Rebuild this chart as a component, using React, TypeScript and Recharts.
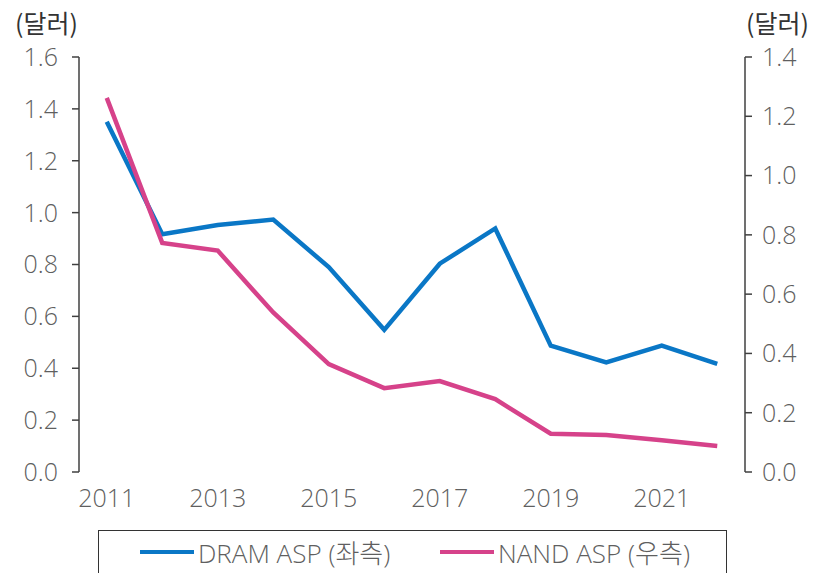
import React from 'react';
import { LineChart, Line, XAxis, YAxis } from 'recharts';

const years = [2011, 2012, 2013, 2014, 2015, 2016, 2017, 2018, 2019, 2020, 2021, 2022];
const dramAsp = [1.35, 0.917, 0.952, 0.973, 0.79, 0.548, 0.803, 0.939, 0.487, 0.423, 0.487, 0.417];
const nandAsp = [1.262, 0.773, 0.747, 0.538, 0.364, 0.283, 0.307, 0.246, 0.129, 0.125, 0.107, 0.088];

const yearLabels = [2011, 2013, 2015, 2017, 2019, 2021];
const yearBoundaries = [2010.5, 2011.5, 2012.5, 2013.5, 2014.5, 2015.5, 2016.5, 2017.5, 2018.5, 2019.5, 2020.5, 2021.5, 2022.5];
const leftTicks = [0, 0.2, 0.4, 0.6, 0.8, 1.0, 1.2, 1.4, 1.6];
const rightTicks = [0, 0.2, 0.4, 0.6, 0.8, 1.0, 1.2, 1.4];

const seriesNames = ['DRAM ASP (좌측)', 'NAND ASP (우측)'];
const unitLabel = '(달러)';

const data = years.map((y, i) => ({ year: y, dram: dramAsp[i], nand: nandAsp[i] }));

const FONT = '"Open Sans", "Noto Sans CJK KR", sans-serif';
const KFONT = '"Noto Sans CJK KR", "Noto Sans", sans-serif';
const BLUE = '#0A77C6';
const PINK = '#D6428A';
const TICK_COLOR = '#5f5f5f';
const AXIS_COLOR = '#404040';

const tickStyle = { fill: TICK_COLOR, fontSize: 25, fontFamily: FONT, fontWeight: 300 };

const LegendBox = () => (
  <div
    style={{
      position: 'absolute',
      left: 98,
      top: 530,
      width: 629,
      height: 60,
      border: '1.5px solid #333',
      boxSizing: 'border-box',
      fontFamily: FONT,
      fontWeight: 300,
      fontSize: 26,
      color: TICK_COLOR,
    }}
  >
    <div style={{ position: 'absolute', left: 41, top: 2, display: 'flex', alignItems: 'center', whiteSpace: 'nowrap' }}>
      <span style={{ display: 'inline-block', width: 54, height: 4, background: BLUE, marginRight: 4 }} />
      <span>{seriesNames[0]}</span>
    </div>
    <div style={{ position: 'absolute', left: 341, top: 2, display: 'flex', alignItems: 'center', whiteSpace: 'nowrap' }}>
      <span style={{ display: 'inline-block', width: 54, height: 4, background: PINK, marginRight: 4 }} />
      <span>{seriesNames[1]}</span>
    </div>
  </div>
);

export default function App() {
  return (
    <div style={{ position: 'absolute', left: 0, top: 0, width: 825, height: 573, background: '#fff', overflow: 'hidden' }}>
      <div style={{ position: 'absolute', left: 15, top: 4, fontFamily: KFONT, fontSize: 25, color: '#333' }}>{unitLabel}</div>
      <div style={{ position: 'absolute', left: 746, top: 4, fontFamily: KFONT, fontSize: 25, color: '#333' }}>{unitLabel}</div>
      <LineChart width={825} height={573} data={data} margin={{ top: 57, right: 0, bottom: 51, left: 0 }}>
        <XAxis
          xAxisId="grid"
          dataKey="year"
          type="number"
          domain={[2010.5, 2022.5]}
          ticks={yearBoundaries}
          tick={false}
          tickSize={7}
          height={0}
          stroke={AXIS_COLOR}
          strokeWidth={1.5}
          allowDataOverflow
        />
        <XAxis
          xAxisId="lab"
          dataKey="year"
          type="number"
          domain={[2010.5, 2022.5]}
          ticks={yearLabels}
          tickLine={false}
          axisLine={false}
          tickSize={0}
          tickMargin={17}
          height={50}
          tick={tickStyle}
          interval={0}
          allowDataOverflow
        />
        <YAxis
          yAxisId="l"
          orientation="left"
          domain={[0, 1.6]}
          ticks={leftTicks}
          tickFormatter={(v: number) => v.toFixed(1)}
          width={79}
          tickSize={7}
          tickMargin={14}
          tick={tickStyle}
          stroke={AXIS_COLOR}
          strokeWidth={1.5}
          interval={0}
        />
        <YAxis
          yAxisId="r"
          orientation="right"
          domain={[0, 1.4]}
          ticks={rightTicks}
          tickFormatter={(v: number) => v.toFixed(1)}
          width={80}
          tickSize={7}
          tickMargin={10}
          tick={tickStyle}
          stroke={AXIS_COLOR}
          strokeWidth={1.5}
          interval={0}
        />
        <Line
          xAxisId="grid"
          yAxisId="l"
          dataKey="dram"
          name={seriesNames[0]}
          stroke={BLUE}
          strokeWidth={4.5}
          dot={false}
          strokeLinejoin="miter"
          isAnimationActive={false}
        />
        <Line
          xAxisId="grid"
          yAxisId="r"
          dataKey="nand"
          name={seriesNames[1]}
          stroke={PINK}
          strokeWidth={4.5}
          dot={false}
          strokeLinejoin="miter"
          isAnimationActive={false}
        />
      </LineChart>
      <LegendBox />
    </div>
  );
}
